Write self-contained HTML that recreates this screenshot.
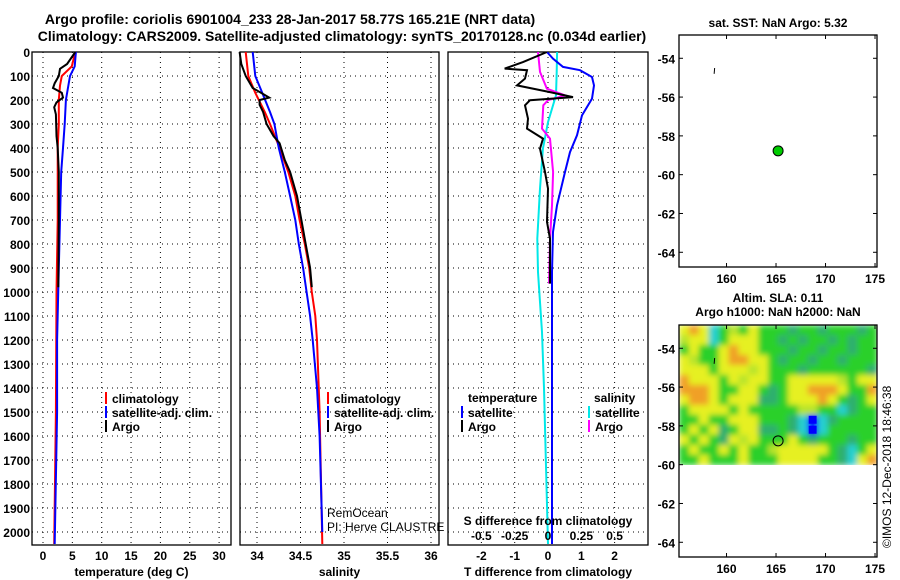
<!DOCTYPE html>
<html><head><meta charset="utf-8"><style>
body{margin:0;background:#fff}
svg{display:block;font-family:"Liberation Sans",sans-serif}
.b{font-weight:bold;font-size:12px}
.n{font-weight:normal;font-size:12px}
</style></head><body>
<svg id="s" width="900" height="580" viewBox="0 0 900 580">
<defs>
<filter id="blur" x="0" y="0" width="1" height="1" filterRes="400"><feGaussianBlur stdDeviation="3" edgeMode="duplicate"/></filter>
<clipPath id="heatclip"><rect x="679" y="325" width="198" height="140"/></clipPath>
</defs>
<text x="290" y="24" text-anchor="middle" font-weight="bold" font-size="14">Argo profile: coriolis 6901004_233 28-Jan-2017 58.77S 165.21E (NRT data)</text>
<text x="342" y="41" text-anchor="middle" font-weight="bold" font-size="14">Climatology: CARS2009. Satellite-adjusted climatology: synTS_20170128.nc (0.034d earlier)</text>
</svg>
<script>
// ---------- data ----------
const depthTicks=[0,100,200,300,400,500,600,700,800,900,1000,1100,1200,1300,1400,1500,1600,1700,1800,1900,2000];
const tempTicks=[0,5,10,15,20,25,30];
const salTicks=[34,34.5,35,35.5,36];
const salTickLabels=["34","34.5","35","35.5","36"];
const tdiffTicks=[-2,-1,0,1,2];
const sdiffTicks=[-0.5,-0.25,0,0.25,0.5];
const sdiffTickLabels=["-0.5","-0.25","0","0.25","0.5"];

const argoTDepth=[0,50,70,100,130,150,170,190,210,230,260,350,400,500,700,980];
const argoT=[5.5,4.1,2.9,2.7,2.0,1.7,3.2,3.4,2.3,1.9,2.2,2.3,2.5,2.7,2.7,2.6];
const climTDepth=[0,60,100,140,200,300,400,700,1000,1500,2050];
const climT=[5.5,4.9,3.2,2.9,2.7,2.7,2.5,2.5,2.3,2.2,1.9];
const satTDepth=[0,60,100,200,300,400,500,700,900,1200,1500,2050];
const satT=[5.6,5.4,4.6,3.9,3.7,3.4,3.1,2.9,2.7,2.4,2.4,2.0];

const argoSDepth=[0,50,100,150,175,190,200,220,250,300,350,380,450,500,600,700,800,900,980];
const argoS=[33.80,33.82,33.87,33.95,34.07,34.14,34.03,34.03,34.07,34.11,34.19,34.26,34.32,34.38,34.46,34.51,34.56,34.61,34.63];
const climSDepth=[0,100,170,250,300,400,500,600,700,800,900,1000,1100,1200,1500,2050];
const climS=[33.87,33.90,33.98,34.09,34.15,34.26,34.36,34.44,34.49,34.55,34.60,34.63,34.67,34.69,34.72,34.75];
const satSDepth=[0,100,170,250,300,400,500,600,700,800,900,1000,1100,1200,1400,1600,2000];
const satS=[33.95,33.98,34.06,34.15,34.20,34.25,34.32,34.38,34.44,34.48,34.53,34.57,34.61,34.64,34.69,34.72,34.75];

const argoTdDepth=[0,42,69,76,111,139,167,188,201,222,278,319,361,403,500,569,708,778,917,965];
const argoTd=[-0.03,-0.75,-1.3,-0.63,-0.69,-0.93,0.06,0.75,-0.54,-0.69,-0.6,-0.63,-0.15,-0.24,-0.09,0,-0.03,0.06,0.06,0.06];
const satTdDepth=[0,28,62,76,104,139,194,264,347,417,500,639,750,917,2050];
const satTd=[-0.03,0.15,0.45,0.96,1.32,1.38,1.32,1.02,0.87,0.66,0.51,0.27,0.15,0.12,0.12];
const argoSdDepth=[0,83,153,181,201,222,319,361,500,639,778,965];
const argoSd=[-0.075,-0.06,-0.008,0.128,0,-0.035,-0.045,0.015,0.038,0.03,0.015,0.008];
const satSdDepth=[0,83,181,292,403,569,778,917,1167,1400,2050];
const satSd=[0.068,0.065,0.06,0,-0.038,-0.06,-0.08,-0.075,-0.045,-0.03,0.0];

const lonTicks=[160,165,170,175];
const latTicks=[-54,-56,-58,-60,-62,-64];
const argoLon=165.21, argoLat=-58.77;
const slaRows=[
"yoycglgygggdggdgggdg","lyycgyyyggdgdggdgdgg","gyggyoyygggdggdggdgg","ylggyooyygdggdggdggg",
"yyygyyylygggdggggggd","oyyygylyyggyyyyylgyy","oooyggyygdgyyoooyggo","yooygyyyddgyyyoygdgy",
"gyyyygygggggllggcdgg","ggyggyyygggdcbcdgggg","gygydgyyddgdcbcggggg","ygygdylygggygdgggdgg",
"gyggygygglyyyyygdcgy","ggygggygggyyyyggdcyo"];
const slaColor={o:"#f0a028",y:"#e6f024",l:"#b8e42c",g:"#2cd02c",d:"#2eae70",c:"#28d0d0",b:"#0000ff"};

// ---------- helpers ----------
const NS="http://www.w3.org/2000/svg", svg=document.getElementById('s');
function mk(tag,attrs,parent){const e=document.createElementNS(NS,tag);for(const k in attrs)e.setAttribute(k,attrs[k]);(parent||svg).appendChild(e);return e;}
const Y0=52, PY=0.24, YB=545;
const yD=d=>Y0+d*PY;
function panel(name,l,r,xf,ticks,labels,title){
  const g=mk('g',{});
  
  
  depthTicks.forEach(d=>{mk('line',{x1:l,x2:r,y1:yD(d),y2:yD(d),stroke:'#000','stroke-dasharray':'1,4'},g);});
  ticks.forEach((t,i)=>{const x=xf(t);mk('line',{x1:x,x2:x,y1:Y0,y2:YB,stroke:'#000','stroke-dasharray':'1,4'},g);
    const tx=mk('text',{x:x,y:560,'text-anchor':'middle',class:'b'},g);tx.textContent=labels[i];
    
    });
  mk('rect',{x:l,y:Y0,width:r-l,height:YB-Y0,fill:'none',stroke:'#000','stroke-width':1.3},g);
  const tt=mk('text',{x:(l+r)/2,y:576,'text-anchor':'middle',class:'b'},g);tt.textContent=title;
  
  
  return g;
}
function line(g,name,ds,vs,xf,col,w){
  const c=mk('clipPath',{id:'c'+name});mk('rect',{x:0,y:Y0,width:900,height:YB-Y0},c);
  const p=mk('polyline',{points:ds.map((d,i)=>xf(vs[i]).toFixed(1)+','+yD(d).toFixed(1)).join(' '),fill:'none',stroke:col,'stroke-width':w||2,'clip-path':'url(#c'+name+')'},g);
  
  
}
function txt(x,y,s,cls,name,extra){const t=mk('text',Object.assign({x:x,y:y,class:cls},extra||{}));t.textContent=s;
  
  return t;}
function legend(x,y,col,label,name){mk('rect',{x:x,y:y-11,width:2,height:12,fill:col});txt(x+7,y,label,'b',name);}

// depth labels
depthTicks.forEach(d=>{txt(30,yD(d)+5,String(d),'b','depth-tick-label',{'text-anchor':'end'});});

// panel 1 temperature
const xT=t=>43+t*5.87;
const p1=panel('temperature-panel',32,231,xT,tempTicks,tempTicks.map(String),'temperature (deg C)');
line(p1,'temp-climatology',climTDepth,climT,xT,'#ff0000');
line(p1,'temp-satellite',satTDepth,satT,xT,'#0000ff');
line(p1,'temp-argo',argoTDepth,argoT,xT,'#000');
legend(105,403,'#ff0000','climatology','legend-climatology');
legend(105,417,'#0000ff','satellite-adj. clim.','legend-satellite');
legend(105,431,'#000','Argo','legend-argo');

// panel 2 salinity
const xS=s=>257+(s-34)*87;
const p2=panel('salinity-panel',240,439,xS,salTicks,salTickLabels,'salinity');
line(p2,'sal-climatology',climSDepth,climS,xS,'#ff0000');
line(p2,'sal-satellite',satSDepth,satS,xS,'#0000ff');
line(p2,'sal-argo',argoSDepth,argoS,xS,'#000');
legend(327,403,'#ff0000','climatology','legend-climatology');
legend(327,417,'#0000ff','satellite-adj. clim.','legend-satellite');
legend(327,431,'#000','Argo','legend-argo');
txt(327,517,'RemOcean','n','remocean-label');
txt(327,531,'PI: Herve CLAUSTRE','n','pi-label');

// panel 3 differences
const xTd=t=>548+t*33.3, xSd=s=>548+s*133.3;
const p3=panel('difference-panel',448,648,xTd,tdiffTicks,tdiffTicks.map(String),'T difference from climatology');
line(p3,'sdiff-satellite',satSdDepth,satSd,xSd,'#00e8e8');
line(p3,'tdiff-satellite',satTdDepth,satTd,xTd,'#0000ff');
line(p3,'sdiff-argo',argoSdDepth,argoSd,xSd,'#ff00ff');
line(p3,'tdiff-argo',argoTdDepth,argoTd,xTd,'#000');
txt(468,402,'temperature','b','legend-temperature-heading');
txt(594,402,'salinity','b','legend-salinity-heading');
legend(461,417,'#0000ff','satellite','legend-t-satellite');
legend(461,431,'#000','Argo','legend-t-argo');
legend(588,417,'#00e8e8','satellite','legend-s-satellite');
legend(588,431,'#ff00ff','Argo','legend-s-argo');
txt(548,525,'S difference from climatology','b','s-diff-axis-title',{'text-anchor':'middle'});
sdiffTicks.forEach((s,i)=>txt(xSd(s),540,sdiffTickLabels[i],'b','s-diff-tick-label',{'text-anchor':'middle'}));

// maps
const ML=679,MR=877,lonF=l=>ML+(l-155.2)*9.9;
function map(top,name,heat){
  const latF=la=>top+(-52.8-la)*19.4, bot=top+232;
  const g=mk('g',{});
  
  
  if(heat){
    const outer=mk('g',{'clip-path':'url(#heatclip)'},g);
    const hg=mk('g',{filter:'url(#blur)'},outer);
    const cw=(MR-ML)/20, ch=(latF(-60)-top)/14;
    slaRows.forEach((row,r)=>{[...row].forEach((k,c)=>{const e=mk('rect',{x:(ML+c*cw).toFixed(2),y:(top+r*ch).toFixed(2),width:(cw+0.6).toFixed(2),height:(ch+0.6).toFixed(2),fill:slaColor[k]},hg);
      
      
      if(k==='b'){const e2=mk('rect',{x:(ML+c*cw+1).toFixed(2),y:(top+r*ch+1).toFixed(2),width:(cw-2).toFixed(2),height:(ch-2).toFixed(2),fill:slaColor[k]},outer);
        
        }});});
  }
  mk('rect',{x:ML,y:top,width:MR-ML,height:232,fill:'none',stroke:'#000','stroke-width':1.3},g);
  latTicks.forEach(la=>{const y=latF(la);mk('line',{x1:MR-4,x2:MR,y1:y,y2:y,stroke:'#000'},g);mk('line',{x1:ML,x2:ML+4,y1:y,y2:y,stroke:'#000'},g);
    txt(675,y+5,String(la),'b','lat-tick-label',{'text-anchor':'end'});});
  lonTicks.forEach(lo=>{const x=lonF(lo);mk('line',{x1:x,x2:x,y1:top,y2:top+4,stroke:'#000'},g);mk('line',{x1:x,x2:x,y1:bot-4,y2:bot,stroke:'#000'},g);
    txt(x,bot+16,String(lo),'b','lon-tick-label',{'text-anchor':'middle'});});
  mk('line',{x1:lonF(158.8),x2:lonF(158.75),y1:latF(-54.5),y2:latF(-54.8),stroke:'#000','stroke-width':1},g);
  const m=mk('circle',{cx:lonF(argoLon),cy:latF(argoLat),r:5,fill:heat?'none':'#00cc00',stroke:'#000','stroke-width':1},g);
  
  
}
map(35,'sst-map',false);
map(325,'sla-map',true);
txt(778,27,'sat. SST: NaN Argo: 5.32','b','sst-map-title',{'text-anchor':'middle'});
txt(778,302,'Altim. SLA: 0.11','b','sla-map-title',{'text-anchor':'middle'});
txt(778,316,'Argo h1000: NaN h2000: NaN','b','sla-map-subtitle',{'text-anchor':'middle'});
txt(0,0,'©IMOS 12-Dec-2018 18:46:38','n','copyright',{transform:'translate(891,548) rotate(-90)'});
</script>
</body></html>
